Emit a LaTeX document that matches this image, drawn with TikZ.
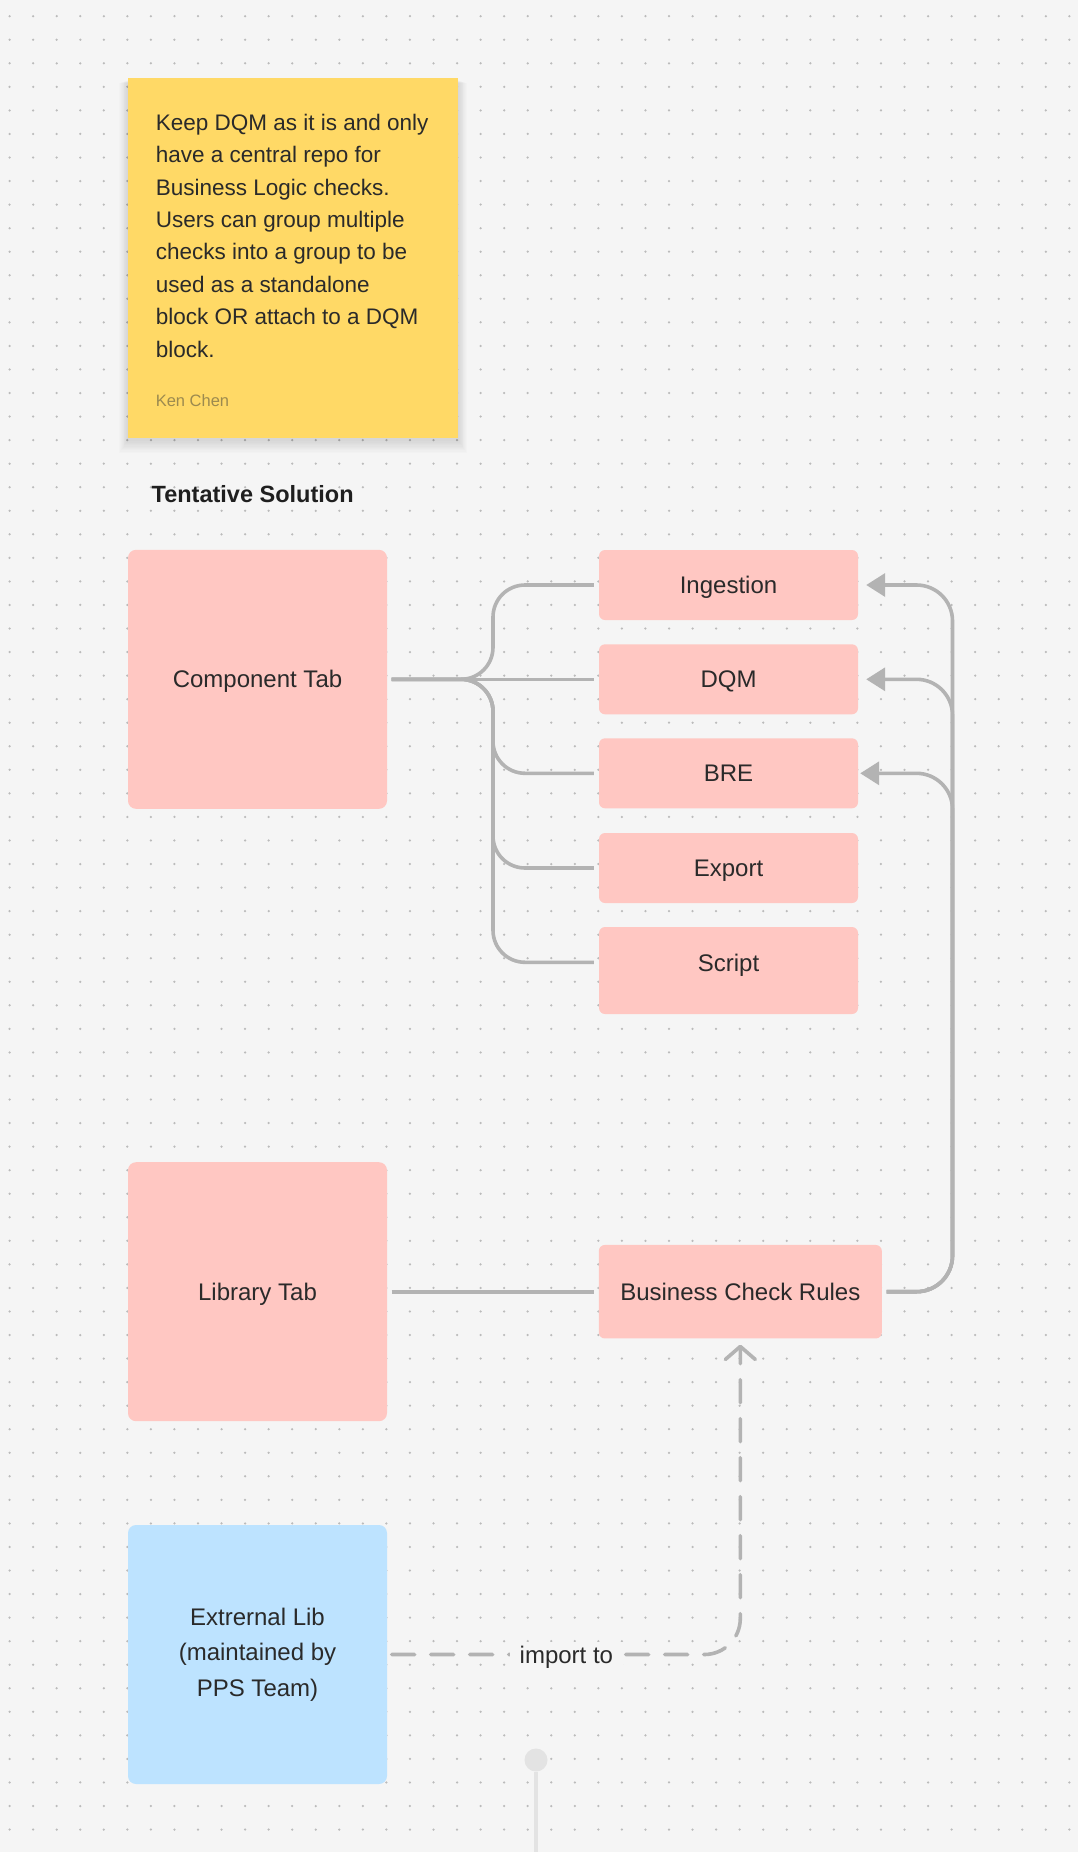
\documentclass[tikz,border=0pt]{standalone}
\usepackage{fontspec}
\setmainfont{Liberation Sans}
\usetikzlibrary{arrows.meta}
\definecolor{bgc}{HTML}{F5F5F5}
\definecolor{dotc}{HTML}{BBBBBB}
\definecolor{pinkc}{HTML}{FFC7C2}
\definecolor{bluec}{HTML}{BDE3FF}
\definecolor{yelc}{HTML}{FFD966}
\definecolor{linec}{HTML}{B3B3B3}
\definecolor{txtc}{HTML}{2A2A2A}
\definecolor{authc}{HTML}{9C8A4F}
\definecolor{stubc}{HTML}{E3E3E3}
\begin{document}
\begin{tikzpicture}[x=1pt,y=-1pt,
  box/.style={rectangle, rounded corners=8pt, fill=pinkc, minimum width=259pt, minimum height=259pt, inner sep=0pt, font=\fontsize{24}{35.3}\selectfont, text=txtc},
  small/.style={box, rounded corners=6pt, minimum height=70pt},
  oneline/.style={text height=17.2pt, text depth=0pt},
  conn/.style={draw=linec, line width=3.6pt, rounded corners=32pt, shorten <=4.5pt, shorten >=5pt},
  arrowconn/.style={conn, rounded corners=36pt, -{Triangle[length=19pt,width=23pt]}, shorten >=8pt},
  dashconn/.style={draw=linec, line width=3.6pt, rounded corners=36pt, dash pattern=on 23pt off 16pt, line cap=round, shorten <=4.5pt, shorten >=6pt, -{Straight Barb[length=13pt,width=30pt,line cap=round,line join=round]}},
]
\useasboundingbox (0,0) rectangle (1078,1852);
\fill[bgc] (0,0) rectangle (1078,1852);
\foreach \i in {0,...,45}{\foreach \j in {0,...,77}{\fill[dotc] ({9.6+\i*23.55},{16.2+\j*23.55}) circle[radius=1.25pt];}}

% sticky note with soft shadow
\foreach \k in {1,...,10}{\fill[black,opacity=0.012] ({128-\k*0.9},{80+\k*0.3}) rectangle ({458+\k*0.9},{440+\k*1.3});}
\node[fill=yelc, minimum width=330pt, minimum height=360pt, inner sep=0pt] (sticky) at (293,258) {};
\node[anchor=north west, inner sep=0pt, align=left, font=\fontsize{22.5}{32.4}\selectfont, text=txtc] (note) at (155.6,113.8)
 {Keep DQM as it is and only\\have a central repo for\\Business Logic checks.\\Users can group multiple\\checks into a group to be\\used as a standalone\\block OR attach to a DQM\\block.};
\node[anchor=west, inner sep=0pt, font=\fontsize{16.5}{20}\selectfont, text=authc, text height=11.8pt, text depth=0pt] (author) at (155.6,400.5) {Ken Chen};
\node[anchor=west, inner sep=0pt, font=\bfseries\fontsize{23.5}{28}\selectfont, text=black!88, text height=16.8pt, text depth=0pt] (title) at (151.5,494) {Tentative Solution};

% boxes
\node[box,oneline] (comp) at (257.5,679.3) {Component Tab};
\node[box,oneline] (lib) at (257.5,1291.7) {Library Tab};
\node[box,fill=bluec,align=center] (ext) at (257.5,1654.5) {Extrernal Lib\\(maintained by\\PPS Team)};

\node[small,oneline] (ing) at (728.5,585) {Ingestion};
\node[small,oneline] (dqm) at (728.5,679.3) {DQM};
\node[small,oneline] (bre) at (728.5,773.3) {BRE};
\node[small,oneline] (exp) at (728.5,868) {Export};
\node[small, minimum height=87pt, text height=17.2pt, text depth=16pt] (scr) at (728.5,970.5) {Script};
\node[small,oneline, minimum width=283pt, minimum height=93.5pt] (bcr) at (740.3,1291.7) {Business Check Rules};

% connectors from Component Tab
\coordinate (lbus) at (493,679.3);
\draw[conn] (comp.east) -- (lbus) |- (ing.west);
\draw[conn] (comp.east) -- (dqm.west);
\draw[conn] (comp.east) -- (lbus) |- (bre.west);
\draw[conn] (comp.east) -- (lbus) |- (exp.west);
\draw[conn] (comp.east) -- (lbus) |- ([yshift=8.2pt]scr.west);

% Library to BCR
\draw[conn] (lib.east) -- (bcr.west);

% BCR back to components
\coordinate (rbus) at (952.5,1291.7);
\draw[arrowconn] (bcr.east) -- (rbus) |- (ing.east);
\draw[arrowconn] (bcr.east) -- (rbus) |- (dqm.east);
\draw[arrowconn, shorten >=2pt] (bcr.east) -- (rbus) |- (bre.east);

% dashed import
\draw[dashconn] (ext.east) -| (bcr.south);
\node[fill=bgc, inner xsep=10pt, inner ysep=4pt, font=\fontsize{24}{28}\selectfont, text=txtc, oneline] (imp) at (566.4,1655) {import to};

% stub at bottom
\node[circle, fill=stubc, minimum size=23pt, inner sep=0pt] (stub) at (536,1760) {};
\coordinate (stubend) at (536,1852);
\draw[stubc, line width=3.5pt] (stub) -- (stubend);
\end{tikzpicture}
\end{document}
